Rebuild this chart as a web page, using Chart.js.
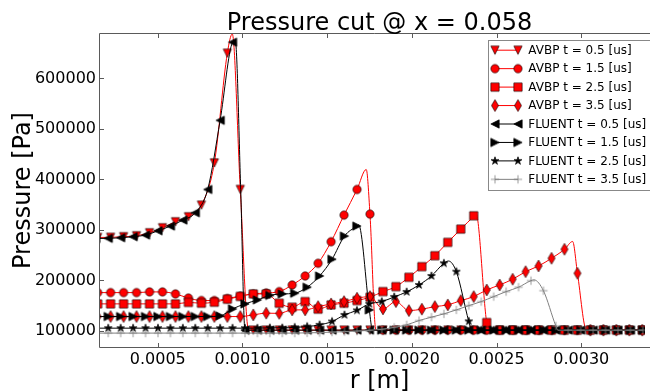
<!DOCTYPE html>
<html><head><meta charset="utf-8">
<script src="https://cdn.jsdelivr.net/npm/chart.js@4/dist/chart.umd.min.js"></script>
<style>html,body{margin:0;padding:0;background:#fff;overflow:hidden}</style>
</head><body>
<canvas id="c" width="650" height="392"></canvas>
<script>
const titleText = 'Pressure cut @ x = 0.058';
const xLabel = 'r [m]';
const yLabel = 'Pressure [Pa]';
const xTicks = [0.0005, 0.0010, 0.0015, 0.0020, 0.0025, 0.0030];
const xTickLabels = ['0.0005', '0.0010', '0.0015', '0.0020', '0.0025', '0.0030'];
const yTicks = [100000, 200000, 300000, 400000, 500000, 600000];
const yTickLabels = ['100000', '200000', '300000', '400000', '500000', '600000'];
const seriesNames = ['AVBP t = 0.5 [us]', 'AVBP t = 1.5 [us]', 'AVBP t = 2.5 [us]', 'AVBP t = 3.5 [us]',
  'FLUENT t = 0.5 [us]', 'FLUENT t = 1.5 [us]', 'FLUENT t = 2.5 [us]', 'FLUENT t = 3.5 [us]'];

// marker positions r [m]
const rAVBP = [0.000145, 0.0002216, 0.0002982, 0.0003747, 0.0004513, 0.0005278, 0.0006044, 0.0006809, 0.0007575, 0.000834,
  0.0009106, 0.0009871, 0.0010637, 0.0011402, 0.0012168, 0.0012933, 0.0013699, 0.0014464, 0.001523, 0.0015995,
  0.0016761, 0.0017526, 0.0018292, 0.0019057, 0.0019823, 0.0020588, 0.0021354, 0.0022119, 0.0022885, 0.002365,
  0.0024416, 0.0025181, 0.0025947, 0.0026712, 0.0027478, 0.0028243, 0.0029009, 0.0029774, 0.003054, 0.0031305,
  0.0032071, 0.0032836, 0.0033602];
const rFLUENT = [0.0001342, 0.0002076, 0.000281, 0.0003544, 0.0004278, 0.0005012, 0.0005746, 0.000648, 0.0007213, 0.0007947,
  0.0008681, 0.0009415, 0.0010149, 0.0010883, 0.0011617, 0.0012351, 0.0013085, 0.0013818, 0.0014552, 0.0015286,
  0.001602, 0.0016754, 0.0017488, 0.0018222, 0.0018956, 0.001969, 0.0020424, 0.0021157, 0.0021891, 0.0022625,
  0.0023359, 0.0024093, 0.0024827, 0.0025561, 0.0026295, 0.0027029, 0.0027763, 0.0028496, 0.002923, 0.0029964,
  0.0030698, 0.0031432, 0.0032166, 0.00329, 0.0033634];

// pressures [Pa] at the markers
const pAVBP05 = [285000, 285200, 286400, 288300, 294300, 304100, 316000, 325900, 349000, 432600, 650000, 380000,
  101325, 101325, 101325, 101325, 101325, 101325, 101325, 101325, 101325, 101325, 101325, 101325, 101325, 101325,
  101325, 101325, 101325, 101325, 101325, 101325, 101325, 101325, 101325, 101325, 101325, 101325, 101325, 101325,
  101325, 101325, 101325];
const pAVBP15 = [175700, 175700, 175700, 175700, 177100, 177100, 173100, 165000, 160000, 160000, 164000, 169000,
  173100, 175100, 177700, 190900, 208700, 233800, 276500, 329300, 380000, 331200,
  101325, 101325, 101325, 101325, 101325, 101325, 101325, 101325, 101325, 101325, 101325, 101325, 101325, 101325,
  101325, 101325, 101325, 101325, 101325, 101325, 101325];
const pAVBP25 = [153400, 153400, 153400, 153400, 153400, 153400, 153400, 156300, 154700, 156700, 162600, 168200,
  173100, 173100, 154700, 146800, 157900, 142900, 151400, 154700, 159900, 166600, 177700, 187500, 206100, 227100,
  248800, 275300, 301600, 327900, 116400,
  101325, 101325, 101325, 101325, 101325, 101325, 101325, 101325, 101325, 101325, 101325, 101325];
const pAVBP35 = [128300, 128300, 128300, 128300, 128300, 128300, 128300, 128300, 128300, 128300, 128300, 128300,
  131600, 135000, 134600, 141500, 141500, 148000, 153400, 157900, 164600, 167800, 143500, 157900, 140100, 142900,
  148000, 151400, 159900, 167800, 181000, 190900, 202200, 217200, 228500, 243700, 261500, 214000,
  101325, 101325, 101325, 101325, 101325];
const pFLUENT05 = [283000, 283200, 284400, 286400, 289700, 298200, 307500, 319400, 333800, 380000, 517000, 671700,
  101325, 101325, 101325, 101325, 101325, 101325, 101325, 101325, 101325, 101325, 101325, 101325, 101325, 101325,
  101325, 101325, 101325, 101325, 101325, 101325, 101325, 101325, 101325, 101325, 101325, 101325, 101325, 101325,
  101325, 101325, 101325, 101325, 101325];
const pFLUENT15 = [128300, 128300, 128300, 128300, 128300, 128300, 128300, 128300, 128300, 128300,
  129600, 143500, 153400, 161300, 170200, 173100, 174500, 186400, 208700, 241700, 287700, 307500, 141500,
  101325, 101325, 101325, 101325, 101325, 101325, 101325, 101325, 101325, 101325, 101325, 101325, 101325, 101325,
  101325, 101325, 101325, 101325, 101325, 101325, 101325, 101325];
const pFLUENT25 = [105300, 105300, 105300, 105300, 105300, 105300, 105300, 105300, 105300, 105300, 105300, 105300,
  105300, 105300, 105900, 105900, 106900, 108500, 111900, 118400, 131600, 140500, 153400, 157900, 167200, 177100,
  190900, 208700, 233800, 217200, 118800,
  101325, 101325, 101325, 101325, 101325, 101325, 101325, 101325, 101325, 101325, 101325, 101325, 101325, 101325];
const pFLUENT35 = [95500, 95500, 95500, 95500, 95500, 95500, 95500, 95500, 95500, 95500, 95500, 95500, 95500, 95500,
  95500, 95500, 95500, 96000, 96500, 97500, 98500, 99500, 101000, 103000, 106900, 111900, 120400, 127100, 133600,
  141500, 150000, 157900, 167800, 177700, 186400, 199400, 179600, 109900,
  101325, 101325, 101325, 101325, 101325, 101325, 101325];

// line-only vertices between markers (peaks, shock feet)
const xAVBP05 = [0.0009399, 0.0010364], yAVBP05 = [688000, 101325];
const xAVBP15 = [0.0017306, 0.001788], yAVBP15 = [419600, 101325];
const xAVBP25 = [0.0023775, 0.0024577], yAVBP25 = [334000, 101325];
const xAVBP35 = [0.002949, 0.0030309], yAVBP35 = [277000, 101325];
const xFLUENT05 = [0.0009574, 0.0009896], yFLUENT05 = [675000, 380000];
const xFLUENT15 = [0.0016856, 0.0017675], yFLUENT15 = [310000, 101325];
const xFLUENT25 = [0.0022161, 0.0023524], yFLUENT25 = [238300, 101325];
const xFLUENT35 = [0.0027209, 0.0028613], yFLUENT35 = [201000, 101325];

const FONT = 'DejaVu Sans';
const MS = 8.33;
function marker(kind, fill, edge, lw) {
  const S = 16, c = document.createElement('canvas');
  c.width = S; c.height = S;
  const g = c.getContext('2d');
  g.translate(S / 2, S / 2);
  const h = MS / 2;
  g.beginPath();
  if (kind === 'v') { g.moveTo(-h, -h); g.lineTo(h, -h); g.lineTo(0, h); g.closePath(); }
  else if (kind === '<') { g.moveTo(-h, 0); g.lineTo(h, -h); g.lineTo(h, h); g.closePath(); }
  else if (kind === '>') { g.moveTo(h, 0); g.lineTo(-h, -h); g.lineTo(-h, h); g.closePath(); }
  else if (kind === 'o') { g.arc(0, 0, h, 0, Math.PI * 2); }
  else if (kind === 's') { g.rect(-h, -h, MS, MS); }
  else if (kind === 'd') { const dy = MS * Math.SQRT1_2, dx = dy * 0.6; g.moveTo(0, -dy); g.lineTo(dx, 0); g.lineTo(0, dy); g.lineTo(-dx, 0); g.closePath(); }
  else if (kind === '*') {
    for (let i = 0; i < 10; i++) {
      const r = i % 2 ? h * 0.381966 : h, a = -Math.PI / 2 + i * Math.PI / 5;
      if (i) g.lineTo(r * Math.cos(a), r * Math.sin(a)); else g.moveTo(r * Math.cos(a), r * Math.sin(a));
    }
    g.closePath();
  } else if (kind === '+') { g.moveTo(-h, 0); g.lineTo(h, 0); g.moveTo(0, -h); g.lineTo(0, h); }
  if (kind !== '+') { g.fillStyle = fill; g.fill(); }
  g.strokeStyle = edge; g.lineWidth = lw; g.stroke();
  return c;
}

const RED = '#ff0000', BLACK = '#000000', GRAY = '#808080';
const EDGE = 'rgba(0,0,0,0.85)';
const series = [
  { r: rAVBP, p: pAVBP05, xr: xAVBP05, yr: yAVBP05, color: RED, m: marker('v', RED, EDGE, 0.7) },
  { r: rAVBP, p: pAVBP15, xr: xAVBP15, yr: yAVBP15, color: RED, m: marker('o', RED, EDGE, 0.7) },
  { r: rAVBP, p: pAVBP25, xr: xAVBP25, yr: yAVBP25, color: RED, m: marker('s', RED, EDGE, 0.7) },
  { r: rAVBP, p: pAVBP35, xr: xAVBP35, yr: yAVBP35, color: RED, m: marker('d', RED, EDGE, 0.7) },
  { r: rFLUENT, p: pFLUENT05, xr: xFLUENT05, yr: yFLUENT05, color: BLACK, m: marker('<', BLACK, BLACK, 0.7) },
  { r: rFLUENT, p: pFLUENT15, xr: xFLUENT15, yr: yFLUENT15, color: BLACK, m: marker('>', BLACK, BLACK, 0.7) },
  { r: rFLUENT, p: pFLUENT25, xr: xFLUENT25, yr: yFLUENT25, color: BLACK, m: marker('*', BLACK, BLACK, 0.7) },
  { r: rFLUENT, p: pFLUENT35, xr: xFLUENT35, yr: yFLUENT35, color: GRAY, m: marker('+', GRAY, GRAY, 0.8) }
];

const datasets = series.map((s, i) => {
  const pts = s.r.map((x, j) => ({ x: x, y: s.p[j], m: true }))
    .concat(s.xr.map((x, j) => ({ x: x, y: s.yr[j], m: false })))
    .sort((a, b) => a.x - b.x);
  return {
    label: seriesNames[i], data: pts, showLine: true, fill: false,
    borderColor: s.color, backgroundColor: s.color, borderWidth: 1,
    cubicInterpolationMode: 'monotone',
    pointStyle: s.m, pointRadius: c => (c.raw && c.raw.m ? 4 : 0), pointHoverRadius: 0,
    order: 8 - i, clip: 0
  };
});

const frameAndText = {
  id: 'frameAndText',
  afterDatasetsDraw(chart) {
    const { ctx, chartArea: a, scales } = chart;
    ctx.save();
    ctx.strokeStyle = '#5a5a5a'; ctx.lineWidth = 1;
    ctx.beginPath();
    ctx.moveTo(a.left + 0.5, a.bottom - 0.5); ctx.lineTo(a.left + 0.5, a.top + 0.5); ctx.lineTo(a.right + 5, a.top + 0.5);
    ctx.moveTo(a.left + 0.5, a.bottom - 0.5); ctx.lineTo(a.right + 5, a.bottom - 0.5);
    xTicks.forEach(v => {
      const x = Math.round(scales.x.getPixelForValue(v)) + 0.5;
      ctx.moveTo(x, a.bottom); ctx.lineTo(x, a.bottom - 5);
      ctx.moveTo(x, a.top); ctx.lineTo(x, a.top + 5);
    });
    yTicks.forEach(v => {
      const y = Math.round(scales.y.getPixelForValue(v)) + 0.5;
      ctx.moveTo(a.left, y); ctx.lineTo(a.left + 5, y);
    });
    ctx.stroke();
    ctx.restore();
  },
  afterDraw(chart) {
    const { ctx, chartArea: a } = chart;
    ctx.save();
    // legend
    const lx = 488.5, ly = 40.5;
    ctx.fillStyle = '#fff'; ctx.strokeStyle = '#888'; ctx.lineWidth = 1;
    ctx.fillRect(lx, ly, 200, 150); ctx.strokeRect(lx, ly, 200, 150);
    ctx.font = '12px "' + FONT + '"'; ctx.textBaseline = 'middle'; ctx.textAlign = 'left';
    series.forEach((s, i) => {
      const y = 50.2 + i * 18.45;
      ctx.strokeStyle = s.color; ctx.lineWidth = 1;
      ctx.beginPath(); ctx.moveTo(495, y); ctx.lineTo(518, y); ctx.stroke();
      [495, 518].forEach(x => ctx.drawImage(s.m, x - s.m.width / 2, y - s.m.height / 2));
      ctx.fillStyle = '#000';
      ctx.fillText(seriesNames[i], 528.3, y + 0.5);
    });
    // titles
    ctx.fillStyle = '#000';
    ctx.font = '24px "' + FONT + '"'; ctx.textAlign = 'center'; ctx.textBaseline = 'alphabetic';
    ctx.fillText(titleText, 379.5, 29.5);
    ctx.fillText(xLabel, 379.5, 388);
    ctx.translate(29.5, (a.top + a.bottom) / 2); ctx.rotate(-Math.PI / 2);
    ctx.fillText(yLabel, 0, 0);
    ctx.restore();
  }
};

Chart.defaults.font.family = FONT;
new Chart(document.getElementById('c'), {
  type: 'scatter',
  data: { datasets: datasets },
  options: {
    responsive: false, animation: false, events: [],
    layout: { padding: { top: 33, left: 0, right: 0, bottom: 0 } },
    plugins: { legend: { display: false }, tooltip: { enabled: false }, title: { display: false } },
    scales: {
      x: {
        type: 'linear', min: 0.0001531, max: 0.0033761,
        grid: { display: false, drawTicks: false }, border: { display: false },
        afterBuildTicks: s => { s.ticks = xTicks.map(v => ({ value: v })); },
        afterFit: s => { s.height = 44; },
        ticks: { autoSkip: false, maxRotation: 0, padding: 2, color: '#000', font: { size: 16 },
          callback: (v, i) => xTickLabels[i] }
      },
      y: {
        type: 'linear', min: 66000, max: 690000,
        grid: { display: false, drawTicks: false }, border: { display: false },
        afterBuildTicks: s => { s.ticks = yTicks.map(v => ({ value: v })); },
        afterFit: s => { s.width = 99; },
        ticks: { autoSkip: false, padding: 3, color: '#000', font: { size: 16 },
          callback: (v, i) => yTickLabels[i] }
      }
    }
  },
  plugins: [frameAndText]
});
</script>
</body></html>
